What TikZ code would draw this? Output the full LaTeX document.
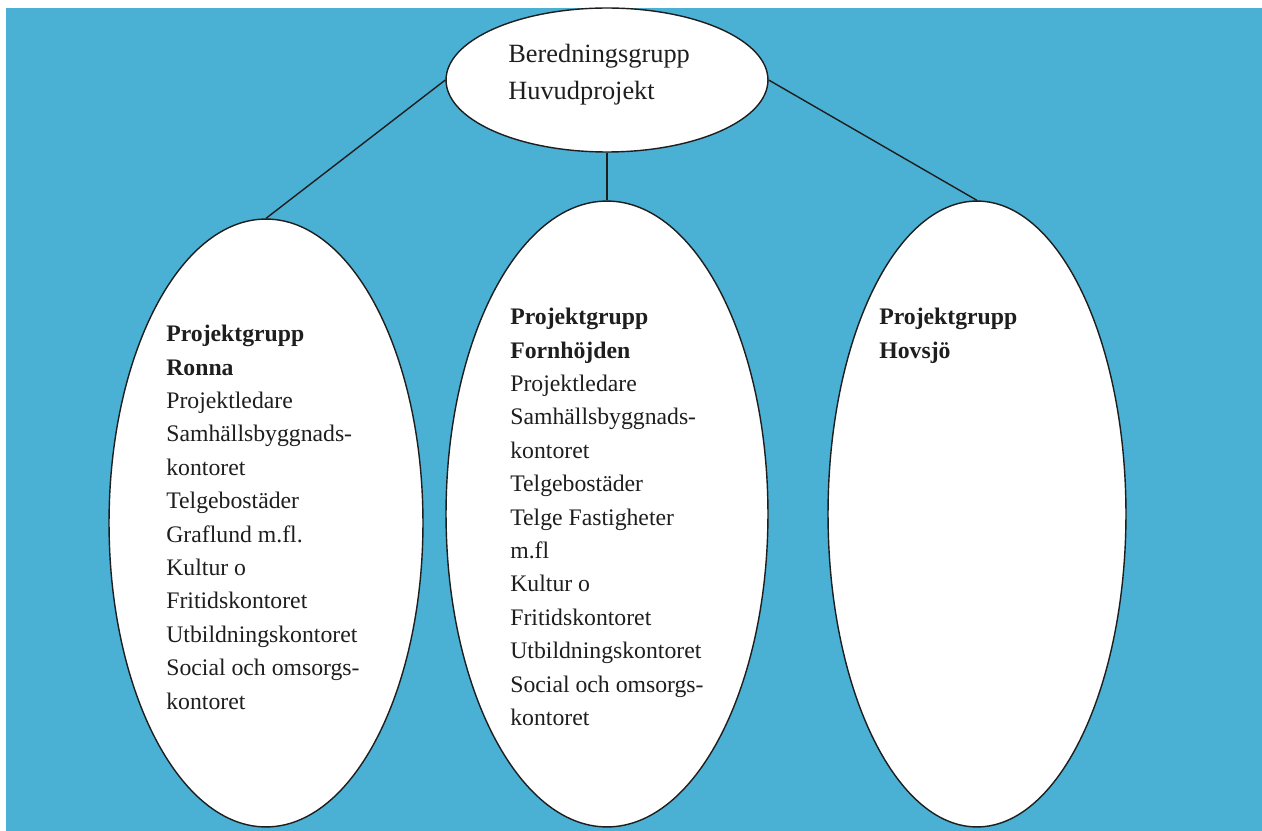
\documentclass[tikz,border=0pt]{standalone}
\usepackage{fontspec}
\setmainfont{Liberation Serif}
\usetikzlibrary{shapes.geometric}
\definecolor{Backdrop}{RGB}{74, 176, 212}
\definecolor{Ink}{RGB}{30, 30, 30}

\begin{document}
\begin{tikzpicture}[x=0.02cm, y=-0.02cm,
    bubble/.style={ellipse, draw=Ink, line width=0.8pt, fill=white, inner sep=0pt},
    members/.style={anchor=north west, align=left, inner sep=0pt, text=Ink, font=\fontsize{13.5}{19}\selectfont},
    link/.style={draw=Ink, line width=0.8pt}]
    %%Background
    \useasboundingbox (0,0) rectangle (1262,831);
    \fill[white] (0,0) rectangle (1262,831);
    \fill[Backdrop] (6,8) rectangle (1262,831);

    %% Ellipses
    \node[bubble, minimum width=6.44cm, minimum height=2.88cm] (main) at (607,80) {};
    \node[bubble, minimum width=6.28cm, minimum height=12.16cm] (ronna) at (266,523) {};
    \node[bubble, minimum width=6.44cm, minimum height=12.52cm] (fornhojden) at (607,514) {};
    \node[bubble, minimum width=5.96cm, minimum height=12.52cm] (hovsjo) at (977,514) {};

    %% Connectors
    \draw[link] (main.west) -- (ronna.north);
    \draw[link] (main.south) -- (fornhojden.north);
    \draw[link] (main.east) -- (hovsjo.north);

    %% Texts
    \node[members, font=\fontsize{15}{21}\selectfont] (maintext) at (508,44)
    {Beredningsgrupp\\Huvudprojekt};
    \node[members] (ronnatext) at (166,325)
    {\textbf{Projektgrupp}\\\textbf{Ronna}\\Projektledare\\Samhällsbyggnads-\\kontoret\\Telgebostäder\\Graflund m.fl.\\Kultur o\\Fritidskontoret\\Utbildningskontoret\\Social och omsorgs-\\kontoret};
    \node[members] (fornhojdentext) at (510,308)
    {\textbf{Projektgrupp}\\\textbf{Fornhöjden}\\Projektledare\\Samhällsbyggnads-\\kontoret\\Telgebostäder\\Telge Fastigheter\\m.fl\\Kultur o\\Fritidskontoret\\Utbildningskontoret\\Social och omsorgs-\\kontoret};
    \node[members] (hovsjotext) at (879,308)
    {\textbf{Projektgrupp}\\\textbf{Hovsjö}};
\end{tikzpicture}
\end{document}
